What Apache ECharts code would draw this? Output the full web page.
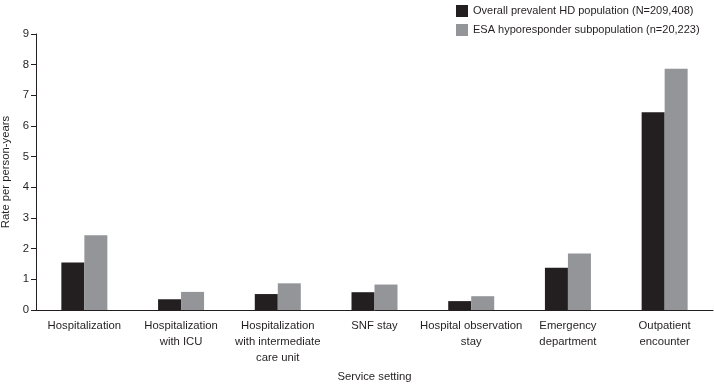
<!DOCTYPE html>
<html>
<head>
<meta charset="utf-8">
<script src="https://cdn.jsdelivr.net/npm/echarts@6/dist/echarts.min.js"></script>
<style>
  html, body { margin: 0; padding: 0; background: #fff; }
  #chart { width: 714px; height: 384px; }
</style>
</head>
<body>
<div id="chart"></div>
<script>
// data
var categories = [
    'Hospitalization',
    'Hospitalization\nwith ICU',
    'Hospitalization\nwith intermediate\ncare unit',
    'SNF stay',
    'Hospital observation\nstay',
    'Emergency\ndepartment',
    'Outpatient\nencounter'
];
var seriesNames = ['Overall prevalent HD population (N=209,408)', 'ESA hyporesponder subpopulation (n=20,223)'];
var overallValues = [1.55, 0.35, 0.52, 0.58, 0.29, 1.38, 6.45];
var esaValues = [2.44, 0.59, 0.87, 0.83, 0.45, 1.84, 7.87];
var yTicks = [0, 1, 2, 3, 4, 5, 6, 7, 8, 9];

window.onload = function () {
    drawChart('chart');
}

function drawChart(id) {
    let chart = echarts.init(document.getElementById(id));
    let txt = '#231f20';
    let font = 'Liberation Sans, Arial, sans-serif';
    let option = {
        animation: false,
        textStyle: { fontFamily: font },
        color: ['#231f20', '#939598'],
        legend: {
            orient: 'vertical',
            left: 451,
            top: 0,
            itemWidth: 12,
            itemHeight: 12,
            itemGap: 7,
            icon: 'rect',
            textStyle: { fontSize: 11, color: txt, fontFamily: font },
            data: seriesNames
        },
        grid: {
            left: 36,
            right: 1,
            top: 34,
            bottom: 74,
            containLabel: false,
            outerBoundsMode: 'none'
        },
        xAxis: {
            type: 'category',
            data: categories,
            name: 'Service setting',
            nameLocation: 'middle',
            nameGap: 60,
            nameTextStyle: { fontSize: 11.3, color: txt },
            axisLine: { lineStyle: { color: txt, width: 1 } },
            axisTick: { alignWithLabel: true, length: 5, lineStyle: { color: txt } },
            axisLabel: { fontSize: 11.3, color: txt, lineHeight: 16, margin: 8, interval: 0 }
        },
        yAxis: {
            type: 'value',
            min: yTicks[0],
            max: yTicks[yTicks.length - 1],
            interval: 1,
            name: 'Rate per person-years',
            nameLocation: 'middle',
            nameGap: 23,
            nameRotate: 90,
            nameTextStyle: { fontSize: 11.3, color: txt },
            splitLine: { show: false },
            axisLine: { show: true, lineStyle: { color: txt, width: 1 } },
            axisTick: { show: true, length: 5, lineStyle: { color: txt } },
            axisLabel: { fontSize: 11.3, color: txt, margin: 7 }
        },
        series: [
            {
                name: seriesNames[0],
                type: 'bar',
                barWidth: 23,
                barGap: 0,
                data: overallValues
            },
            {
                name: seriesNames[1],
                type: 'bar',
                barWidth: 23,
                barGap: 0,
                data: esaValues
            }
        ]
    };
    chart.setOption(option);
    return chart;
}
</script>
</body>
</html>
